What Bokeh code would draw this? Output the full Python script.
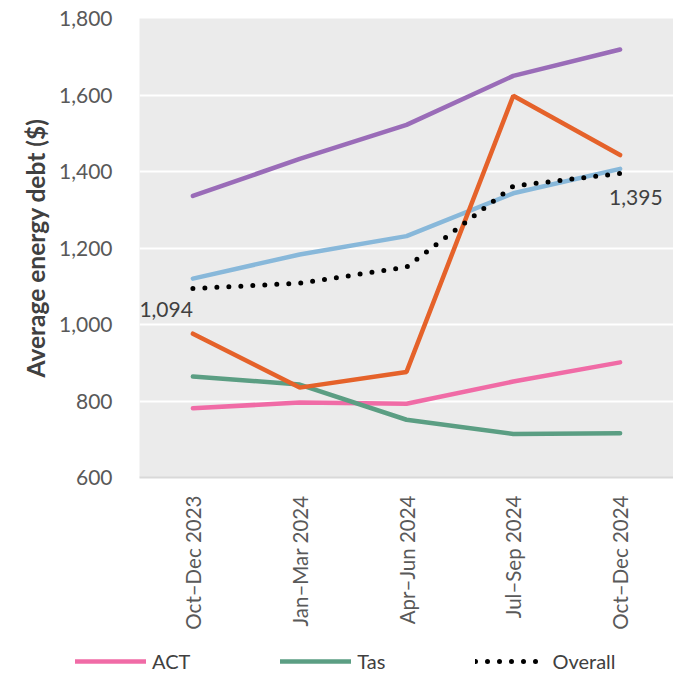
from bokeh.plotting import figure
from bokeh.models import FactorRange, Range1d, NumeralTickFormatter, Legend, LegendItem
from bokeh.core.properties import value
from bokeh.embed import file_html
from bokeh.resources import INLINE
import math

quarters = ["Oct\u2013Dec 2023", "Jan\u2013Mar 2024", "Apr\u2013Jun 2024", "Jul\u2013Sep 2024", "Oct\u2013Dec 2024"]
act = [781, 796, 793, 851, 901]
tas = [864, 843, 751, 714, 716]
nsw = [1120, 1183, 1231, 1343, 1407]
sa = [1336, 1433, 1522, 1650, 1719]
qld = [976, 835, 876, 1598, 1443]
overall = [1094, 1108, 1150, 1362, 1395]
y_ticks = [600, 800, 1000, 1200, 1400, 1600, 1800]

FONT = "Lato"
STY = {
    "act": dict(line_color="#f06ba6", line_width=4.5, line_cap="round"),
    "tas": dict(line_color="#5b9e83", line_width=4.5, line_cap="round"),
    "nsw": dict(line_color="#88b8da", line_width=4.5, line_cap="round"),
    "sa": dict(line_color="#9a6cb8", line_width=4.5, line_cap="round"),
    "qld": dict(line_color="#e5622a", line_width=4.5, line_cap="round"),
    "all": dict(line_color="black", line_width=5, line_dash="0 12", line_cap="round"),
}

p = figure(width=673, height=640, x_range=FactorRange(*quarters, range_padding=0),
           y_range=Range1d(600, 1800), output_backend="svg", toolbar_location=None,
           min_border_left=139, min_border_right=0, min_border_top=18, min_border_bottom=163)
p.background_fill_color = "#ebebeb"
p.border_fill_color = "white"
p.outline_line_color = None

p.xgrid.grid_line_color = None
p.ygrid.grid_line_color = "white"
p.ygrid.grid_line_width = 2
p.yaxis.ticker = y_ticks
p.yaxis.formatter = NumeralTickFormatter(format="0,0")
p.yaxis.axis_line_color = None
p.yaxis.major_tick_line_color = None
p.yaxis.minor_tick_line_color = None
p.yaxis.major_label_text_font = FONT
p.yaxis.major_label_text_font_size = "21px"
p.yaxis.major_label_text_color = "#595959"
p.yaxis.major_label_standoff = 21
p.yaxis.axis_label = "Average energy debt ($)"
p.yaxis.axis_label_text_font = FONT
p.yaxis.axis_label_text_font_style = "bold"
p.yaxis.axis_label_text_font_size = "24.5px"
p.yaxis.axis_label_text_color = "#404040"
p.yaxis.axis_label_standoff = 6

p.xaxis.axis_line_color = "#d9d9d9"
p.xaxis.axis_line_width = 2
p.xaxis.major_tick_line_color = None
p.xaxis.minor_tick_line_color = None
p.xaxis.major_label_orientation = math.pi / 2
p.xaxis.major_label_text_font = FONT
p.xaxis.major_label_text_font_size = "20.5px"
p.xaxis.major_label_text_color = "#595959"
p.xaxis.major_label_standoff = 12

p.line(quarters, act, **STY["act"])
p.line(quarters, tas, **STY["tas"])
p.line(quarters, nsw, **STY["nsw"])
p.line(quarters, sa, **STY["sa"])
p.line(quarters, qld, **STY["qld"])
p.line(quarters, overall, **STY["all"])

p.text(x=[quarters[0]], y=[overall[0]], text=["1,094"], text_align="right", text_baseline="middle",
       y_offset=21, x_offset=0, text_font=value(FONT), text_font_size="21px", text_color="#404040")
p.text(x=[quarters[-1]], y=[overall[-1]], text=["1,395"], text_align="left", text_baseline="middle",
       y_offset=24, x_offset=-11, text_font=value(FONT), text_font_size="21px", text_color="#404040")

# legend strip below the chart (series drawn out of view, only their legend swatches show)
lg = figure(width=673, height=34, x_range=FactorRange(*quarters, range_padding=0),
            y_range=Range1d(0, 1), output_backend="svg", toolbar_location=None,
            min_border=0, min_border_left=0, min_border_right=0, min_border_top=0, min_border_bottom=0)
lg.axis.visible = False
lg.grid.visible = False
lg.outline_line_color = None
lg.background_fill_color = "white"
l_act = lg.line(quarters, act, **STY["act"])
l_tas = lg.line(quarters, tas, **STY["tas"])
l_all = lg.line(quarters, overall, **STY["all"])
legend = Legend(items=[LegendItem(label="ACT", renderers=[l_act]),
                       LegendItem(label="Tas", renderers=[l_tas]),
                       LegendItem(label="Overall", renderers=[l_all])],
                location=(75, 1), orientation="horizontal",
                glyph_width=71, glyph_height=20, label_height=20, label_standoff=6,
                spacing=90, padding=0, margin=0, border_line_color=None,
                background_fill_alpha=0,
                label_text_font=FONT, label_text_font_size="20px", label_text_color="#404040")
lg.add_layout(legend, "center")

open("out.html", "w").write(file_html([p, lg], INLINE))
